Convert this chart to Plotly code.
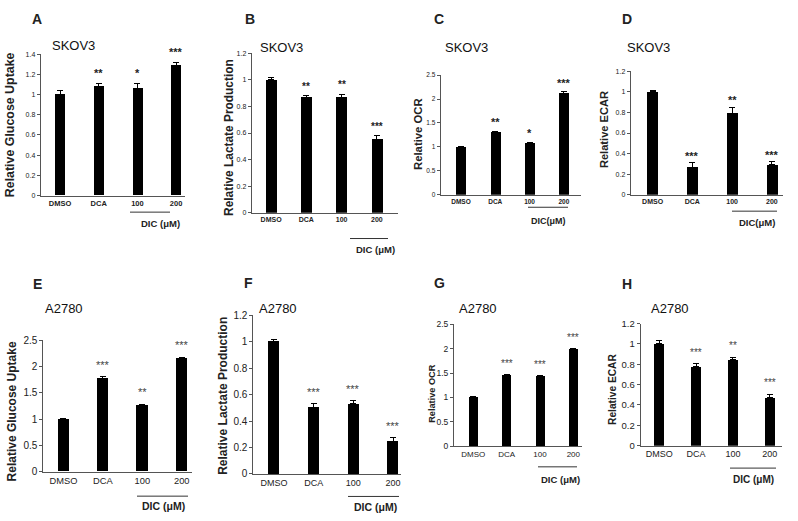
import plotly.graph_objects as go

W, H = 798, 521

categories = ["DMSO", "DCA", "100", "200"]

# ---- data ----
skov3_glucose = [1.00, 1.08, 1.06, 1.29]
skov3_glucose_err = [0.04, 0.03, 0.05, 0.03]
skov3_glucose_sig = ["", "**", "*", "***"]

skov3_lactate = [1.00, 0.87, 0.87, 0.55]
skov3_lactate_err = [0.02, 0.01, 0.02, 0.03]
skov3_lactate_sig = ["", "**", "**", "***"]

skov3_ocr = [1.00, 1.32, 1.09, 2.12]
skov3_ocr_err = [0.01, 0.01, 0.01, 0.03]
skov3_ocr_sig = ["", "**", "*", "***"]

skov3_ecar = [1.00, 0.27, 0.79, 0.29]
skov3_ecar_err = [0.01, 0.04, 0.06, 0.03]
skov3_ecar_sig = ["", "***", "**", "***"]

a2780_glucose = [1.00, 1.78, 1.26, 2.16]
a2780_glucose_err = [0.01, 0.03, 0.02, 0.02]
a2780_glucose_sig = ["", "***", "**", "***"]

a2780_lactate = [1.00, 0.50, 0.53, 0.245]
a2780_lactate_err = [0.02, 0.03, 0.025, 0.03]
a2780_lactate_sig = ["", "***", "***", "***"]

a2780_ocr = [1.00, 1.46, 1.43, 1.99]
a2780_ocr_err = [0.02, 0.01, 0.015, 0.01]
a2780_ocr_sig = ["", "***", "***", "***"]

a2780_ecar = [1.00, 0.78, 0.85, 0.475]
a2780_ecar_err = [0.03, 0.025, 0.02, 0.03]
a2780_ecar_sig = ["", "***", "**", "***"]

# ---- layout geometry (pixels) ----
panels = [
    dict(letter="A", cell="SKOV3", ylabel="Relative Glucose Uptake", dic="DIC (μM)",
         vals=skov3_glucose, err=skov3_glucose_err, sig=skov3_glucose_sig,
         x0=40.7, x1=185, yt=49.3, yb=194, xr=[-0.5, 3.23], ymax=1.4, dt=0.2, bw=0.26,
         let=(30, 13), title=(50, 40), ylab=(10, 122, 12.4),
         tickf=7.5, tickbold=True, ytickf=7, starf=11, starbold=True, starshift=2,
         line=(130, 170, 211), dicpos=(160, 223, 9.5)),
    dict(letter="B", cell="SKOV3", ylabel="Relative Lactate Production", dic="DIC (μM)",
         vals=skov3_lactate, err=skov3_lactate_err, sig=skov3_lactate_sig,
         x0=251.7, x1=398, yt=48.3, yb=211.7, xr=[-0.55, 3.6], ymax=1.2, dt=0.2, bw=0.31,
         let=(243, 13), title=(258, 42), ylab=(229, 135, 11.9),
         tickf=7, tickbold=True, ytickf=7, starf=10, starbold=True, starshift=2,
         line=(350, 388, 238), dicpos=(375, 249, 9.5)),
    dict(letter="C", cell="SKOV3", ylabel="Relative OCR", dic="DIC(μM)",
         vals=skov3_ocr, err=skov3_ocr_err, sig=skov3_ocr_sig,
         x0=440.7, x1=581, yt=70.7, yb=193.3, xr=[-0.59, 3.5], ymax=2.5, dt=0.5, bw=0.29,
         let=(432, 13), title=(443, 42), ylab=(418, 131, 11.3),
         tickf=6.5, tickbold=True, ytickf=6.5, starf=11, starbold=True, starshift=1,
         line=(528, 568, 206), dicpos=(548, 220, 9)),
    dict(letter="D", cell="SKOV3", ylabel="Relative ECAR", dic="DIC(μM)",
         vals=skov3_ecar, err=skov3_ecar_err, sig=skov3_ecar_sig,
         x0=630.7, x1=783, yt=66.7, yb=193.3, xr=[-0.55, 3.28], ymax=1.2, dt=0.2, bw=0.28,
         let=(620, 13), title=(625, 42), ylab=(604, 127, 11.1),
         tickf=7, tickbold=True, ytickf=7, starf=11, starbold=True, starshift=-1,
         line=(732, 777, 210), dicpos=(757, 222, 9.5)),
    dict(letter="E", cell="A2780", ylabel="Relative Glucose Uptake", dic="DIC (μM)",
         vals=a2780_glucose, err=a2780_glucose_err, sig=a2780_glucose_sig,
         x0=43.3, x1=192, yt=342.3, yb=476.7, xr=[-0.51, 3.26], ymax=2.5, dt=0.5, bw=0.28,
         let=(31, 285), title=(43, 310), ylab=(12, 415, 12),
         tickf=9.3, tickbold=False, ytickf=10, starf=11, starbold=False, starshift=4,
         line=(137, 188, 501.7), dicpos=(163, 512, 10.5)),
    dict(letter="F", cell="A2780", ylabel="Relative Lactate Production", dic="DIC (μM)",
         vals=a2780_lactate, err=a2780_lactate_err, sig=a2780_lactate_sig,
         x0=253.3, x1=401, yt=316.7, yb=479, xr=[-0.52, 3.2], ymax=1.2, dt=0.2, bw=0.28,
         let=(242, 284), title=(257, 310), ylab=(223, 399, 12),
         tickf=9, tickbold=False, ytickf=10, starf=11, starbold=False, starshift=4,
         line=(348, 399, 502), dicpos=(375, 513, 10.5)),
    dict(letter="G", cell="A2780", ylabel="Relative OCR", dic="DIC (μM)",
         vals=a2780_ocr, err=a2780_ocr_err, sig=a2780_ocr_sig,
         x0=454, x1=582, yt=325.7, yb=450.7, xr=[-0.58, 3.26], ymax=2.5, dt=0.5, bw=0.27,
         let=(432, 284), title=(457, 310), ylab=(432, 397, 9.2),
         tickf=8, tickbold=False, ytickf=8.5, starf=10, starbold=False, starshift=4,
         line=(538, 577, 471.7), dicpos=(560, 485, 9.5)),
    dict(letter="H", cell="A2780", ylabel="Relative ECAR", dic="DIC (μM)",
         vals=a2780_ecar, err=a2780_ecar_err, sig=a2780_ecar_sig,
         x0=640.7, x1=782, yt=325, yb=450, xr=[-0.5, 3.33], ymax=1.2, dt=0.2, bw=0.27,
         let=(620, 285), title=(649, 310), ylab=(613, 393, 10.2),
         tickf=9, tickbold=False, ytickf=9.5, starf=10, starbold=False, starshift=4,
         line=(730, 776, 473), dicpos=(753, 485, 10)),
]

FONT = "Arial, Liberation Sans, sans-serif"

def px(x):
    return x / W

def py(y):
    return 1 - y / H

fig = go.Figure()
annotations = []
shapes = []
layout_axes = {}

for i, p in enumerate(panels, start=1):
    xa = "x" if i == 1 else f"x{i}"
    ya = "y" if i == 1 else f"y{i}"
    fig.add_trace(go.Bar(
        x=categories, y=p["vals"], xaxis=xa, yaxis=ya,
        width=p["bw"], marker=dict(color="black", line=dict(width=0)),
        error_y=dict(type="data", array=p["err"], arrayminus=[0] * 4,
                     symmetric=False, color="black", thickness=1, width=3),
        showlegend=False, hoverinfo="skip",
    ))
    xkey = "xaxis" if i == 1 else f"xaxis{i}"
    ykey = "yaxis" if i == 1 else f"yaxis{i}"
    layout_axes[xkey] = dict(
        domain=[px(p["x0"]), px(p["x1"])], anchor=ya, range=p["xr"],
        type="category", showline=True, linecolor="#555", linewidth=1,
        ticks="", showgrid=False, zeroline=False,
        tickfont=dict(family=FONT, size=p["tickf"], color="#222",
                      weight="bold" if p["tickbold"] else "normal"),
    )
    ticks = []
    v = 0.0
    while v <= p["ymax"] + 1e-9:
        ticks.append(round(v, 2))
        v += p["dt"]
    layout_axes[ykey] = dict(
        domain=[py(p["yb"]), py(p["yt"])], anchor=xa, range=[0, p["ymax"]],
        showline=True, linecolor="#555", linewidth=1, ticks="outside",
        ticklen=3, tickcolor="#555", tickvals=ticks, showgrid=False, zeroline=False,
        tickfont=dict(family=FONT, size=p["ytickf"], color="#222"),
    )
    annotations.append(dict(text=f"<b>{p['letter']}</b>", x=px(p["let"][0]), y=py(p["let"][1]),
                            xref="paper", yref="paper", xanchor="left", yanchor="middle",
                            showarrow=False, font=dict(family=FONT, size=14, color="#222")))
    annotations.append(dict(text=p["cell"], x=px(p["title"][0]), y=py(p["title"][1]),
                            xref="paper", yref="paper", xanchor="left", yanchor="middle",
                            showarrow=False, font=dict(family=FONT, size=13, color="#111")))
    annotations.append(dict(text=f"<b>{p['ylabel']}</b>", x=px(p["ylab"][0]), y=py(p["ylab"][1]),
                            xref="paper", yref="paper", xanchor="center", yanchor="middle",
                            textangle=-90, showarrow=False,
                            font=dict(family=FONT, size=p["ylab"][2], color="#222")))
    for j, (v, e, s) in enumerate(zip(p["vals"], p["err"], p["sig"])):
        if s:
            annotations.append(dict(text=s, x=j, y=v + e, xref=xa, yref=ya,
                                    xanchor="center", yanchor="bottom", yshift=p["starshift"],
                                    showarrow=False,
                                    font=dict(family=FONT, size=p["starf"],
                                              color="#222" if p["starbold"] else "#444444",
                                              weight="bold" if p["starbold"] else "normal")))
    l = p["line"]
    shapes.append(dict(type="line", xref="paper", yref="paper",
                       x0=px(l[0]), x1=px(l[1]), y0=py(l[2]), y1=py(l[2]),
                       line=dict(color="#333", width=1)))
    d = p["dicpos"]
    annotations.append(dict(text=f"<b>{p['dic']}</b>", x=px(d[0]), y=py(d[1]),
                            xref="paper", yref="paper", xanchor="center", yanchor="middle",
                            showarrow=False, font=dict(family=FONT, size=d[2], color="#222")))

fig.update_layout(
    width=W, height=H, margin=dict(l=0, r=0, t=0, b=0),
    paper_bgcolor="white", plot_bgcolor="white",
    annotations=annotations, shapes=shapes, bargap=0,
    **layout_axes,
)

fig.write_html("out.html", config={"displayModeBar": False},
               post_script="document.body.style.margin='0';document.body.style.overflow='hidden';")
